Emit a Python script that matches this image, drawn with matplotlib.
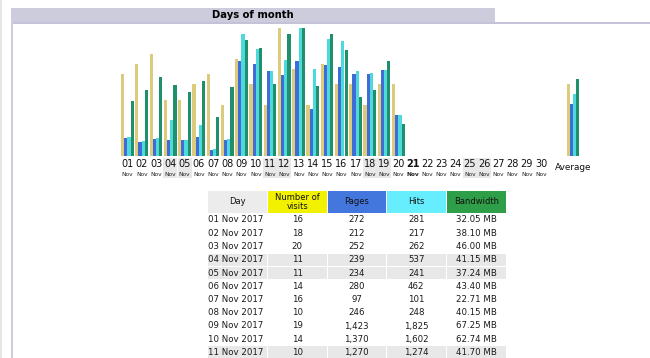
import numpy as np
import matplotlib
matplotlib.use("Agg")
import matplotlib.pyplot as plt
from matplotlib.patches import Rectangle

# data (days 12-20)
day_labels = ["%02d" % d for d in range(1, 31)]
visits = [16, 18, 20, 11, 11, 14, 16, 10, 19, 14, 10, 25, 17, 10, 18, 14, 14, 10, 14, 14]
pages = [272, 212, 252, 239, 234, 280, 97, 246, 1423, 1370, 1270, 1207, 1417, 708, 1357,
         1327, 1222, 1232, 1287, 609]
hits = [281, 217, 262, 537, 241, 462, 101, 248, 1825, 1602, 1274, 1432, 1915, 1306, 1755,
        1720, 1272, 1240, 1290, 612]
bandwidth = [32.05, 38.10, 46.00, 41.15, 37.24, 43.40, 22.71, 40.15, 67.25, 62.74, 41.70,
             70.6, 74.2, 40.8, 70.5, 61.3, 34.4, 38.4, 54.9, 18.7]
avg_values = [14.05, 783, 927, 44.5]  # visits, pages, hits, bandwidth
weekend_days = [4, 5, 11, 12, 18, 19, 25, 26]
today = 21

table_cols = ["Day", "Number of\nvisits", "Pages", "Hits", "Bandwidth"]
table_pages_txt = ["272", "212", "252", "239", "234", "280", "97", "246", "1,423", "1,370", "1,270"]
table_hits_txt = ["281", "217", "262", "537", "241", "462", "101", "248", "1,825", "1,602", "1,274"]
table_bw_txt = ["32.05 MB", "38.10 MB", "46.00 MB", "41.15 MB", "37.24 MB", "43.40 MB",
                "22.71 MB", "40.15 MB", "67.25 MB", "62.74 MB", "41.70 MB"]

bar_colors = ["#DCCB7C", "#3F6CD6", "#4ED9DD", "#1F8F6C"]
head_colors = ["#ECECEC", "#F2F200", "#4477DD", "#66EEFF", "#2F9E48"]

W, H = 650, 358
fig = plt.figure(figsize=(W / 100, H / 100), dpi=100)
ax = fig.add_axes([0, 0, 1, 1])
ax.set_xlim(0, W)
ax.set_ylim(H, 0)
ax.axis("off")

# page frame
ax.add_patch(Rectangle((0, 0), 1.5, H, color="#E6E6E6", lw=0))
ax.add_patch(Rectangle((11, 8), 484, 14.5, color="#CCCCDD", lw=0))
ax.add_patch(Rectangle((11, 22), W - 11, 2, color="#C4C2D6", lw=0))
ax.add_patch(Rectangle((11, 8), 1.8, H - 8, color="#CCCCDD", lw=0))
ax.text(253, 15.5, "Days of month", ha="center", va="center", fontsize=7.2, fontweight="bold")

# bars
base_y, bar_h = 156, 128
axb = fig.add_axes([0, (H - base_y) / H, 1, bar_h / H])
axb.set_xlim(0, W)
axb.set_ylim(0, 1)
axb.axis("off")
axb.patch.set_alpha(0)

x0, step, bw_ = 121, 14.26, 3.2
vmax = max(visits)
hmax = max(hits)
kmax = max(bandwidth)
n = len(visits)
left = x0 + np.arange(n) * step
kw = dict(align="edge", lw=0, antialiased=False)
axb.bar(left, np.array(visits) / vmax, width=bw_, color=bar_colors[0], **kw)
axb.bar(left + bw_, np.array(pages) / hmax, width=bw_, color=bar_colors[1], **kw)
axb.bar(left + 2 * bw_, np.array(hits) / hmax, width=bw_, color=bar_colors[2], **kw)
axb.bar(left + 3 * bw_, np.array(bandwidth) / kmax, width=bw_, color=bar_colors[3], **kw)

avg_left = 566.5
scales = [vmax, hmax, hmax, kmax]
for k in range(4):
    axb.bar(avg_left + k * bw_, avg_values[k] / scales[k], width=bw_, color=bar_colors[k], **kw)

# day labels
for i, lab in enumerate(day_labels):
    d = i + 1
    cx = x0 + 6.6 + i * step
    if d in weekend_days:
        ax.add_patch(Rectangle((cx - 7, 158), 14, 20, color="#E8E8E8", lw=0))
    wt = "bold" if d == today else "normal"
    ax.text(cx, 164, lab, ha="center", va="center", fontsize=7, fontweight=wt, color="#111111")
    ax.text(cx, 174, "Nov", ha="center", va="center", fontsize=4.2, fontweight=wt, color="#222222")
ax.text(573.5, 168, "Average", ha="center", va="center", fontsize=6.4, color="#111111")

# table
col_x = [208, 268, 327.5, 387, 447]
col_w = [59, 58.5, 58.5, 58.5, 58.5]
for j, name in enumerate(table_cols):
    ax.add_patch(Rectangle((col_x[j], 191), col_w[j], 22, color=head_colors[j], lw=0))
    ax.text(col_x[j] + col_w[j] / 2, 202, name, ha="center", va="center", fontsize=6,
            linespacing=1.0, color="#111111")

row_y0, row_h = 220, 13.25
for i in range(len(table_pages_txt)):
    d = i + 1
    cy = row_y0 + i * row_h
    if d in weekend_days:
        for j in range(5):
            ax.add_patch(Rectangle((col_x[j], cy - 6.2), col_w[j], 12.4, color="#E8E8E8", lw=0))
    cells = ["%02d Nov 2017" % d, str(visits[i]), table_pages_txt[i], table_hits_txt[i],
             table_bw_txt[i]]
    ax.text(208.5, cy, cells[0], ha="left", va="center", fontsize=6.2, color="#1A1A1A")
    for j in range(1, 5):
        ax.text(col_x[j] + col_w[j] / 2, cy, cells[j], ha="center", va="center", fontsize=6.2,
                color="#1A1A1A")

fig.savefig("out.png", dpi=100)
